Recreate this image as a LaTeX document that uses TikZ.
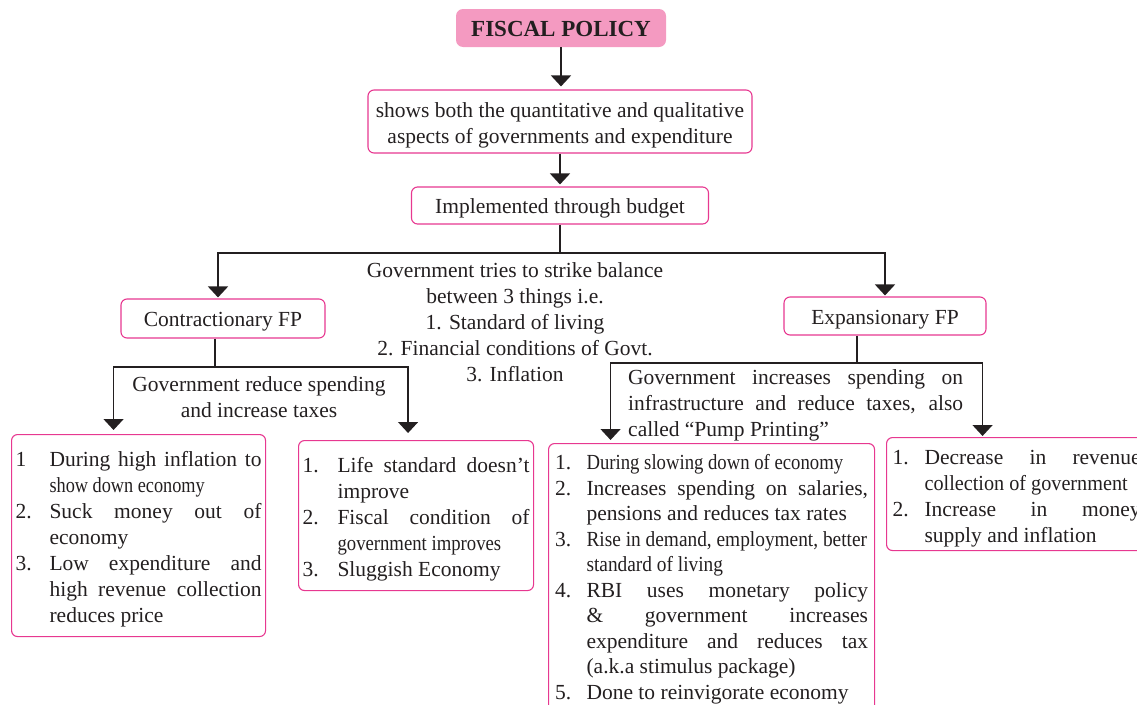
\documentclass[tikz,border=0pt]{standalone}
\usepackage{fontspec}
\setmainfont{Liberation Serif}
\usepackage{graphicx}
\usetikzlibrary{arrows.meta}
\definecolor{fppink}{RGB}{244,154,193}
\definecolor{fpedge}{RGB}{231,56,144}
\definecolor{fpink}{RGB}{35,31,32}
\newlength{\numw}
\newcommand{\li}[2]{\hangindent=\numw\hangafter=1\noindent\makebox[\numw][l]{#1}#2\par}
\newcommand{\sq}[2]{\scalebox{#1}[1]{#2}}
\tolerance=10000
\hbadness=10000

\begin{document}
\begin{tikzpicture}[x=1pt,y=-1pt,
    every node/.style={inner sep=0pt,text=fpink,font=\fontsize{21.5}{26}\selectfont},
    box/.style={draw=fpedge,line width=1.1pt,rounded corners=6pt},
    one/.style={box,text height=21pt,text depth=5pt},
    list/.style={box,anchor=north west,align=justify,execute at begin node={\setlength{\numw}{#1}}},
    arr/.style={draw=fpink,line width=1.5pt,-{Triangle[width=20pt,length=11pt]}},
    lin/.style={draw=fpink,line width=1.5pt}]
  \useasboundingbox (0,0) rectangle (1137,704);
  \clip (0,0) rectangle (1137,704);

  \node[fill=fppink,rounded corners=7pt,minimum width=210pt,minimum height=38pt,text height=20pt,text depth=4pt,font=\fontsize{23}{28}\selectfont\bfseries] (FP) at (561,28) {FISCAL POLICY};
  \node[box,align=center,minimum width=384pt,minimum height=63pt] (S) at (560,121.5) {\rule{0pt}{23pt}shows both the quantitative and qualitative\\aspects of governments and expenditure};
  \node[one,minimum width=297pt,minimum height=37pt] (B) at (560,205.5) {Implemented through budget};
  \node[one,minimum width=204pt,minimum height=39pt] (C) at (223,318.5) {Contractionary FP};
  \node[one,minimum width=202pt,minimum height=38pt] (E) at (885,316) {Expansionary FP};

  \node[anchor=north,align=center] (T) at (515,262) {Government tries to strike balance\\between 3 things i.e.\\1. Standard of living\\2. Financial conditions of Govt.\\3. Inflation};
  \node[anchor=north,align=center] (CT) at (259,376) {Government reduce spending\\and increase taxes};
  \node[anchor=north west,text width=335pt,align=justify] (ET) at (628,369) {Government increases spending on\linebreak infrastructure and reduce taxes, also\linebreak called “Pump Printing”};

  \node[list=34pt,inner xsep=4pt,text width=246pt,minimum height=202pt] (C1) at (11,434) {%
    \li{1}{\rule{0pt}{23pt}During high inflation to\linebreak \sq{.85}{show down economy}}
    \li{2.}{Suck money out of\linebreak economy}
    \li{3.}{Low expenditure and\linebreak high revenue collection\linebreak reduces price}};
  \node[list=35pt,inner xsep=4pt,text width=227pt,minimum height=150pt] (C2) at (298,440) {%
    \li{1.}{\rule{0pt}{23pt}Life standard doesn’t\linebreak improve}
    \li{2.}{Fiscal condition of\linebreak \sq{.87}{government improves}}
    \li{3.}{Sluggish Economy}};
  \node[list=31.5pt,inner xsep=6.5pt,inner ysep=11pt,text width=313pt,font=\fontsize{21.5}{25.5}\selectfont] (E1) at (548,443) {%
    \li{1.}{\sq{.87}{During slowing down of economy}}
    \li{2.}{Increases spending on salaries,\linebreak pensions and reduces tax rates}
    \li{3.}{\sq{.9}{Rise in demand, employment, better}\linebreak \sq{.9}{standard of living}}
    \li{4.}{RBI uses monetary policy\linebreak \& government increases\linebreak expenditure and reduces tax\linebreak (a.k.a stimulus package)}
    \li{5.}{Done to reinvigorate economy}};
  \node[list=32pt,inner xsep=6pt,text width=248pt,minimum height=113pt] (E2) at (886,437) {%
    \li{1.}{\rule{0pt}{23pt}Decrease in revenue\linebreak \sq{.94}{collection of government}}
    \li{2.}{Increase in money\linebreak supply and inflation}};

  \coordinate (J) at (560,253);
  \coordinate (JC) at (215,367);
  \coordinate (JE) at (857,363);

  \draw[arr,shorten >=3pt] (FP.south) -- (FP.south |- S.north);
  \draw[arr,shorten >=2pt] (S) -- (B);
  \draw[lin] (B) -- (J);
  \draw[arr,shorten >=1pt] (J) -| ([xshift=-5pt]C.north);
  \draw[arr,shorten >=1pt] (J) -| (E.north);
  \draw[lin] (C.south -| JC) -- (JC);
  \draw[arr,shorten >=4pt] (JC) -| ([xshift=-25pt]C1.north);
  \draw[arr,shorten >=7pt] (JC) -| ([xshift=-8pt]C2.north);
  \draw[lin] (E.south -| JE) -- (JE);
  \draw[arr,shorten >=3pt] (JE) -| ([xshift=-101pt]E1.north);
  \draw[arr,shorten >=1pt] (JE) -| ([xshift=-34pt]E2.north);
\end{tikzpicture}
\end{document}
